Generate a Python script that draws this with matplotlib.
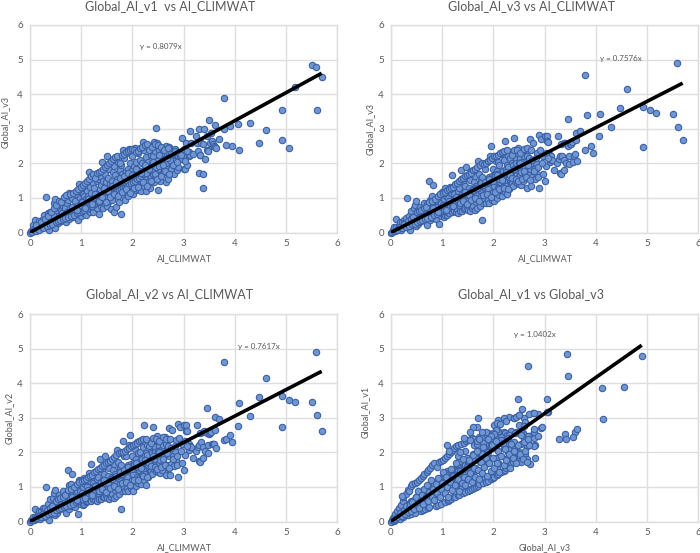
import matplotlib
matplotlib.use("Agg")
import matplotlib.pyplot as plt

# AI values, the same sites in every panel
ai_climwat = [
    0.00,0.02,0.04,0.05,0.06,0.08,0.09,0.10,0.12,0.13,
    0.15,0.16,0.18,0.20,0.21,0.23,0.25,0.27,0.28,0.30,
    0.31,0.33,0.35,0.37,0.38,0.40,0.40,0.42,0.44,0.45,
    0.47,0.48,0.49,0.50,0.52,0.53,0.55,0.56,0.58,0.60,
    0.60,0.62,0.63,0.65,0.66,0.68,0.70,0.70,0.72,0.73,
    0.75,0.76,0.77,0.79,0.80,0.80,0.82,0.83,0.85,0.87,
    0.88,0.90,0.92,0.93,0.94,0.95,0.97,0.98,1.00,1.00,
    1.01,1.02,1.03,1.04,1.05,1.06,1.07,1.08,1.09,1.10,
    1.10,1.12,1.13,1.14,1.15,1.16,1.17,1.18,1.19,1.20,
    1.20,1.22,1.23,1.24,1.25,1.26,1.27,1.28,1.29,1.30,
    1.30,1.32,1.33,1.34,1.35,1.36,1.37,1.38,1.39,1.40,
    1.40,1.42,1.43,1.44,1.45,1.46,1.47,1.48,1.49,1.50,
    1.50,1.51,1.52,1.53,1.54,1.55,1.56,1.57,1.58,1.59,
    1.60,1.61,1.62,1.63,1.64,1.65,1.66,1.67,1.68,1.69,
    1.70,1.71,1.72,1.73,1.74,1.75,1.76,1.77,1.78,1.79,
    1.80,1.81,1.82,1.83,1.84,1.85,1.86,1.87,1.88,1.89,
    1.90,1.91,1.92,1.93,1.94,1.95,1.96,1.97,1.98,1.99,
    2.00,2.01,2.02,2.03,2.04,2.05,2.06,2.07,2.08,2.09,
    2.10,2.11,2.12,2.13,2.14,2.15,2.16,2.17,2.18,2.19,
    2.20,2.21,2.22,2.23,2.24,2.25,2.26,2.27,2.28,2.29,
    2.30,2.31,2.32,2.33,2.34,2.35,2.36,2.37,2.38,2.39,
    2.40,2.41,2.42,2.43,2.44,2.45,2.46,2.47,2.48,2.49,
    2.50,2.51,2.52,2.53,2.54,2.55,2.56,2.58,2.60,2.62,
    2.63,2.65,2.66,2.68,2.69,2.70,2.71,2.72,2.73,2.75,
    2.76,2.78,2.80,2.82,2.84,2.85,2.86,2.88,2.90,2.90,
    2.93,2.97,2.97,3.00,3.00,3.02,3.04,3.05,3.07,3.10,
    3.11,3.13,3.13,3.15,3.18,3.25,3.27,3.28,3.30,3.30,
    3.32,3.33,3.35,3.38,3.39,3.39,3.40,3.42,3.45,3.46,
    3.47,3.48,3.50,3.52,3.53,3.55,3.58,3.60,3.62,3.62,
    3.63,3.69,3.80,3.80,3.83,3.90,3.95,4.07,4.09,4.30,
    4.47,4.62,4.93,4.93,5.06,5.18,5.52,5.58,5.61,5.70,
    # edges of the dense band
    0.12,0.18,0.22,0.26,0.30,0.34,0.36,0.39,0.41,0.43,
    0.46,0.50,0.51,0.54,0.57,0.59,0.61,0.64,0.67,0.69,
    0.71,0.74,0.78,0.81,0.84,0.86,0.89,0.91,0.94,0.96,
    0.99,1.01,1.03,1.05,1.07,1.09,1.11,1.13,1.15,1.17,
    1.19,1.21,1.23,1.25,1.27,1.29,1.31,1.33,1.35,1.37,
    1.39,1.41,1.43,1.45,1.47,1.49,1.51,1.53,1.55,1.57,
    1.59,1.61,1.63,1.65,1.67,1.69,1.71,1.73,1.75,1.77,
    1.79,1.81,1.83,1.85,1.87,1.89,1.91,1.93,1.95,1.97,
    1.99,2.01,2.03,2.05,2.07,2.09,2.11,2.13,2.15,2.17,
    2.19,2.21,2.24,2.26,2.28,2.31,2.33,2.36,2.38,2.41,
    2.44,2.47,2.50,2.53,2.56,2.59,2.62,2.66,2.70,2.74,
    # middle of the dense band
    0.82,0.92,1.02,1.08,1.14,1.22,1.28,1.34,1.40,1.44,
    1.48,1.52,1.56,1.60,1.64,1.68,1.72,1.76,1.80,1.84,
    1.88,1.92,1.96,2.00,2.04,2.08,2.12,2.16,2.20,2.24,
    2.28,2.32,2.36,2.40,2.44,2.48,2.52,2.56,2.60,2.64,
    2.68,2.72,2.76,2.80,2.84,2.88,2.92,2.96,3.02,3.06,
]
global_v1 = [
    0.00,0.03,0.02,0.10,0.22,0.07,0.13,0.36,0.05,0.18,
    0.25,0.09,0.33,0.14,0.22,0.12,0.40,0.52,0.20,0.31,
    1.04,0.15,0.55,0.42,0.08,0.60,0.28,0.36,0.50,0.22,
    0.86,0.98,0.14,0.65,0.38,0.75,0.27,0.85,0.48,0.62,
    0.34,0.92,0.55,0.78,0.42,0.70,0.30,0.95,0.58,0.85,
    0.95,0.40,1.15,0.72,0.50,1.02,0.64,1.00,0.46,0.90,
    0.60,1.10,0.78,0.37,0.55,1.41,0.70,1.00,0.48,1.20,
    0.75,0.90,0.62,1.12,1.05,0.55,0.82,1.28,0.66,0.98,
    0.52,1.20,0.72,1.05,0.88,1.75,0.60,1.32,0.95,0.68,
    1.15,0.85,1.42,0.58,1.02,1.30,0.75,1.60,0.92,1.48,
    0.70,1.10,1.55,0.88,0.53,1.25,1.62,0.78,1.38,2.05,
    1.00,0.72,1.50,1.22,0.85,1.70,1.10,1.45,0.95,2.22,
    1.30,0.78,1.58,1.05,1.85,0.90,1.40,2.00,1.18,0.68,
    1.50,0.95,1.75,1.25,0.60,1.92,1.08,1.65,1.38,0.75,
    1.55,1.15,2.05,0.88,1.45,1.82,1.28,0.53,1.95,1.02,
    1.68,2.40,1.20,1.55,2.15,1.35,0.95,1.78,2.30,1.10,
    1.48,1.85,1.05,2.42,1.30,1.65,2.00,1.18,1.78,1.42,
    2.20,1.10,1.58,1.92,1.35,2.45,1.72,1.22,2.05,1.50,
    1.85,1.25,2.30,1.62,1.40,2.10,1.78,1.20,2.00,1.50,
    2.62,1.68,1.35,2.38,1.95,1.55,2.18,1.20,1.82,2.50,
    1.45,2.05,1.72,2.42,1.30,1.90,2.25,1.60,2.00,1.50,
    2.20,1.70,2.62,1.45,1.95,2.35,1.60,3.03,1.80,2.58,
    1.22,2.10,1.85,2.40,1.50,1.95,2.28,1.68,2.45,1.80,
    2.12,1.45,2.50,1.90,2.32,1.55,2.05,2.48,1.75,2.20,
    1.85,2.38,2.10,1.70,2.42,1.90,2.25,1.80,2.22,1.90,
    2.20,2.72,2.12,1.85,2.42,1.85,2.58,2.18,1.95,2.20,
    2.32,2.93,2.25,2.60,2.28,2.80,2.60,2.35,2.98,1.72,
    2.25,2.25,2.60,2.55,1.68,1.30,3.00,2.12,2.78,2.38,
    2.40,2.35,3.25,2.60,2.87,2.65,2.55,2.50,3.10,2.48,
    2.45,2.71,3.88,2.98,2.54,3.08,2.49,3.13,2.40,3.18,
    2.58,2.96,3.53,2.67,2.45,4.22,4.85,4.80,3.53,4.50,
    # edges of the dense band
    0.21,0.08,0.30,0.14,0.38,0.18,0.48,0.22,0.58,0.24,
    0.72,0.30,0.80,0.33,0.92,0.35,0.88,0.38,1.02,0.42,
    1.08,0.46,1.12,0.48,1.14,0.52,1.20,0.56,1.26,0.58,
    1.32,0.62,1.38,0.66,1.44,0.70,1.50,0.72,1.56,0.76,
    1.62,0.78,1.68,0.82,1.58,0.85,1.72,0.88,1.75,0.92,
    1.78,0.95,1.85,0.98,1.90,1.00,1.95,1.02,2.02,1.08,
    2.08,1.12,2.12,1.15,2.18,1.18,2.22,1.22,2.00,1.25,
    2.25,1.28,2.28,1.30,2.32,1.35,2.36,1.38,2.40,1.42,
    2.42,1.45,2.38,1.50,2.32,1.55,2.35,1.58,2.45,1.62,
    2.48,1.68,2.52,1.72,2.55,1.45,2.40,1.80,2.48,1.85,
    2.55,1.88,2.52,1.92,2.48,1.98,2.40,2.02,2.45,2.10,
    # middle of the dense band
    0.74,0.66,0.88,0.72,0.98,0.82,1.12,0.92,1.02,1.28,
    0.88,1.20,1.02,1.35,1.12,1.45,1.05,1.58,1.18,1.62,
    1.25,1.72,1.15,1.65,1.28,1.85,1.32,1.72,1.45,1.95,
    1.35,1.85,1.50,2.05,1.70,1.55,2.25,1.62,1.95,1.78,
    2.15,1.68,2.28,1.95,2.35,2.05,2.30,2.25,2.08,2.35,
]
global_v3 = [
    0.00,0.02,0.06,0.04,0.15,0.05,0.16,0.38,0.08,0.10,
    0.20,0.14,0.29,0.06,0.31,0.17,0.37,0.30,0.15,0.42,
    0.99,0.24,0.48,0.33,0.06,0.62,0.21,0.44,0.70,0.29,
    0.80,0.90,0.20,0.55,0.25,0.66,0.30,0.75,0.33,0.58,
    0.44,0.70,0.40,0.86,0.52,0.62,0.23,0.82,0.47,0.72,
    1.50,0.35,0.95,0.66,0.42,1.05,0.80,1.37,0.55,0.74,
    0.40,1.00,0.90,0.24,0.64,1.10,0.48,0.85,0.56,1.18,
    0.62,0.72,0.45,0.98,1.28,0.50,0.70,1.05,0.52,0.80,
    0.60,1.00,0.55,1.20,0.68,1.33,0.65,1.15,0.78,0.58,
    1.65,0.72,1.10,0.62,0.82,1.00,0.60,1.38,0.68,1.20,
    0.55,0.92,1.28,0.75,0.62,1.05,1.82,0.62,1.12,1.45,
    0.85,0.68,1.20,1.35,0.70,1.90,1.00,1.10,0.75,1.62,
    1.18,0.65,1.30,0.80,1.52,0.62,1.12,1.78,0.92,0.70,
    1.25,0.78,1.45,1.05,0.65,1.62,0.88,1.35,1.15,0.72,
    2.07,0.95,1.70,0.78,1.22,1.52,1.05,0.37,1.60,0.85,
    1.40,1.95,1.00,1.30,1.85,1.15,0.85,1.50,2.05,0.95,
    1.25,1.60,0.85,2.22,1.10,1.45,2.50,0.95,1.62,1.18,
    1.85,0.90,1.35,1.70,1.12,2.08,1.50,1.00,1.78,1.28,
    2.05,1.08,1.95,1.45,1.22,2.28,1.60,1.05,1.75,1.32,
    2.10,1.48,1.18,2.65,1.70,1.35,1.95,1.10,1.62,2.20,
    1.25,1.85,1.52,2.15,1.40,1.68,2.00,1.42,2.28,1.35,
    2.72,1.55,2.35,1.50,1.80,2.12,1.42,2.30,1.60,2.45,
    1.40,1.90,1.65,2.15,1.38,1.75,2.05,1.50,2.20,1.62,
    2.40,1.30,2.22,1.70,2.08,1.65,1.85,2.70,1.35,2.00,
    1.60,2.60,1.85,1.55,2.00,1.70,2.30,1.60,2.82,1.30,
    2.70,1.68,2.20,1.48,2.80,1.92,2.80,2.65,2.62,2.05,
    2.25,2.10,2.22,2.10,1.80,2.02,2.80,2.12,2.20,1.73,
    2.55,1.68,2.20,2.58,2.10,1.80,2.60,2.00,2.50,3.29,
    2.20,1.97,2.57,2.55,2.62,2.05,2.22,2.27,2.87,2.68,
    2.08,2.94,4.56,2.40,3.40,2.50,2.31,2.78,3.42,3.06,
    3.60,4.15,2.48,3.63,3.55,3.45,3.44,4.90,3.05,2.68,
    # edges of the dense band
    0.08,0.17,0.12,0.24,0.16,0.34,0.20,0.40,0.24,0.46,
    0.24,0.58,0.30,0.62,0.34,0.66,0.36,0.72,0.40,0.74,
    0.42,0.88,0.46,0.92,0.50,0.98,0.54,1.06,0.58,1.12,
    0.62,1.14,0.64,1.18,0.70,1.22,0.72,1.26,0.76,1.30,
    0.80,1.32,0.84,1.40,0.90,1.44,0.94,1.50,0.98,1.54,
    1.02,1.58,1.06,1.62,1.10,1.66,1.14,1.70,1.18,1.72,
    1.22,1.80,1.24,1.85,1.28,1.90,1.30,1.96,1.34,2.00,
    1.36,1.98,1.42,2.02,1.46,2.08,1.50,2.10,1.56,2.15,
    1.58,2.20,1.62,2.22,1.68,2.25,1.55,2.30,1.72,2.32,
    1.78,2.35,1.85,2.38,1.90,1.60,1.72,2.25,1.95,2.40,
    2.00,2.38,2.02,2.30,1.95,2.42,1.90,2.44,2.15,2.38,
    # middle of the dense band
    0.70,0.60,0.80,0.66,0.90,0.76,1.02,0.85,0.92,1.18,
    0.82,1.08,0.95,1.22,1.00,1.30,0.92,1.42,1.08,1.45,
    1.12,1.55,1.02,1.50,1.18,1.65,1.25,1.52,1.30,1.75,
    1.25,1.65,1.58,1.85,1.55,1.50,2.00,1.55,1.78,1.60,
    1.95,1.52,2.10,1.78,2.15,1.88,2.40,2.00,2.30,2.15,
]
global_v2 = [
    0.00,0.03,0.05,0.05,0.14,0.04,0.14,0.37,0.07,0.11,
    0.22,0.13,0.30,0.08,0.29,0.18,0.38,0.33,0.14,0.40,
    0.99,0.22,0.50,0.35,0.05,0.65,0.23,0.42,0.68,0.27,
    0.82,0.91,0.18,0.57,0.26,0.68,0.32,0.76,0.35,0.56,
    0.42,0.72,0.42,0.88,0.50,0.60,0.25,0.80,0.48,0.74,
    1.50,0.37,1.05,0.68,0.45,1.08,0.78,1.37,0.53,0.76,
    0.42,1.02,0.88,0.22,0.62,1.20,0.50,0.87,0.58,1.20,
    0.64,0.74,0.47,1.00,1.25,0.52,0.72,1.08,0.55,0.83,
    0.58,1.02,0.58,1.18,0.70,1.40,0.62,1.18,0.80,0.60,
    1.65,0.74,1.12,0.65,0.85,1.03,0.62,1.42,0.70,1.22,
    0.58,0.95,1.30,0.77,0.64,1.08,1.80,0.65,1.15,1.48,
    0.88,0.70,1.22,1.37,0.72,1.90,1.02,1.12,0.78,1.65,
    1.20,0.68,1.32,0.83,1.55,0.65,1.15,1.75,0.95,0.72,
    1.28,0.80,1.48,1.08,0.68,1.65,0.90,1.38,1.18,0.75,
    2.07,0.98,1.72,0.80,1.25,1.55,1.08,0.37,1.62,0.88,
    1.42,2.33,1.02,1.32,1.88,1.18,0.88,1.52,1.90,0.98,
    1.28,1.62,0.88,2.22,1.12,1.48,2.50,0.98,1.65,1.20,
    1.88,0.88,1.38,1.72,1.15,2.10,1.52,1.02,1.80,1.30,
    2.30,1.10,1.98,1.48,1.25,2.00,1.62,1.08,1.78,1.35,
    2.15,1.50,1.20,2.80,1.72,1.38,1.98,1.05,1.65,2.20,
    1.28,1.88,1.55,2.18,1.42,1.70,2.02,1.45,2.30,1.38,
    2.72,1.58,2.38,1.52,1.82,2.15,1.45,2.35,1.62,2.48,
    1.42,1.92,1.68,2.18,1.40,1.78,2.08,1.48,2.22,1.65,
    2.45,1.35,2.25,1.62,2.10,1.55,1.88,2.70,1.35,2.05,
    1.65,2.65,1.88,1.60,2.05,1.75,2.35,1.62,2.82,1.30,
    2.72,1.68,2.25,1.50,2.80,1.92,2.80,2.63,2.62,2.08,
    2.25,2.15,2.18,2.15,1.83,2.05,2.80,2.15,2.20,1.75,
    2.55,1.72,2.30,2.60,2.15,1.85,2.62,2.05,2.55,3.27,
    2.22,1.97,2.52,2.55,2.60,2.25,2.25,2.25,3.02,2.65,
    2.12,2.96,4.62,2.35,2.40,2.50,2.30,2.76,3.42,3.06,
    3.60,4.15,2.72,3.63,3.52,3.46,3.45,4.90,3.07,2.63,
    # edges of the dense band
    0.09,0.16,0.13,0.22,0.17,0.32,0.21,0.38,0.25,0.44,
    0.26,0.60,0.32,0.64,0.36,0.68,0.38,0.70,0.42,0.76,
    0.44,0.90,0.48,0.94,0.52,1.00,0.56,1.08,0.60,1.14,
    0.64,1.16,0.66,1.20,0.72,1.24,0.74,1.28,0.78,1.32,
    0.82,1.34,0.86,1.42,0.92,1.46,0.96,1.52,1.00,1.56,
    1.04,1.60,1.08,1.64,1.12,1.68,1.16,1.72,1.20,1.74,
    1.24,1.82,1.26,1.87,1.30,1.92,1.32,1.98,1.36,2.02,
    1.38,2.00,1.44,2.04,1.48,2.10,1.52,2.12,1.58,2.18,
    1.60,2.22,1.64,2.25,1.70,2.28,1.58,2.33,1.74,2.35,
    1.80,2.38,1.88,2.40,1.92,1.62,1.75,2.28,1.98,2.42,
    2.02,2.40,2.05,2.32,1.98,2.45,1.92,2.38,2.18,2.40,
    # middle of the dense band
    0.72,0.62,0.82,0.68,0.92,0.78,1.04,0.87,0.94,1.20,
    0.84,1.10,0.97,1.24,1.02,1.32,0.94,1.44,1.10,1.48,
    1.14,1.58,1.05,1.52,1.20,1.68,1.20,1.55,1.32,1.78,
    1.28,1.68,1.60,1.88,1.58,1.52,2.02,1.58,1.80,1.62,
    1.98,1.55,2.12,1.80,2.18,1.90,2.42,2.05,2.32,2.18,
]

# points only visible in the v1 vs v3 panel
extra_v3 = [4.13,1.10,1.13,1.71,2.08,2.14,2.25,2.40,2.45,2.50,
            2.69,2.79,3.05,2.95,2.87,2.80,2.60,1.85,1.78,1.60,
            1.55,1.43,0.22,2.72,2.82,2.80,2.70,2.50,2.55,2.65,
            0.12,0.18,0.22,0.25,0.28,0.30,0.33,0.35,0.38,0.40,
            0.42,0.45,0.48,0.50,0.52,0.55,0.58,0.60,0.62,0.65,
            0.68,0.70,0.72,0.75,0.78,0.80,0.82,0.85,0.88,0.90,
            0.92,0.95,0.98,1.00,1.02,1.05,1.08,1.10,1.12,1.15,
            1.18,1.20,1.22,1.25,1.28,1.30,1.32,1.35,1.38,1.40,
            1.42,1.45,1.48,1.50,1.52,1.55,1.58,1.60,1.62,1.65,
            1.68,1.70,1.72,1.75,1.78,1.80,1.82,1.85,1.88,1.90,
            1.92,1.95,1.98,2.00,2.02,2.05,2.08,2.10,2.12,2.15,
            2.18,2.20,2.22,2.25,2.28,2.30,2.33,2.35,2.38,2.40,
            2.42,2.45,2.48,2.52,2.55,2.58,2.60,2.62,2.65,2.68]
extra_v1 = [3.85,2.22,2.05,2.98,2.85,2.82,2.92,3.00,3.03,3.08,
            3.10,3.13,3.18,2.72,2.48,2.68,2.77,2.60,2.58,2.72,
            2.60,2.42,0.75,1.65,1.85,2.18,2.20,1.75,1.72,1.80,
            0.14,0.24,0.16,0.34,0.22,0.45,0.28,0.38,0.50,0.30,
            0.55,0.36,0.70,0.48,0.88,0.40,0.62,0.78,0.52,0.95,
            0.70,1.05,0.60,0.85,1.20,0.72,0.95,0.62,1.08,0.82,
            1.25,0.72,0.95,1.12,1.42,0.82,1.28,1.00,0.70,1.15,
            1.52,0.90,1.32,1.05,1.68,1.22,0.88,1.45,1.10,1.80,
            1.30,1.05,1.58,1.22,1.78,1.40,1.15,1.92,1.55,1.30,
            2.05,1.50,1.22,1.72,1.40,2.15,1.58,1.85,1.32,2.00,
            1.70,1.45,2.20,1.85,1.55,2.32,1.68,2.05,1.42,1.90,
            2.28,1.62,2.10,1.78,2.42,1.95,1.55,2.25,1.85,2.05,
            2.55,1.70,2.20,1.95,2.50,1.80,2.30,2.05,1.72,2.40]

slopes = [0.8079, 0.7576, 0.7617, 1.0402]
line_ends = [5.7, 5.7, 5.7, 4.9]
titles = ["Global_AI_v1  vs AI_CLIMWAT", "Global_AI_v3 vs AI_CLIMWAT",
          "Global_AI_v2 vs AI_CLIMWAT", "Global_AI_v1 vs Global_v3"]
xlabels = ["AI_CLIMWAT", "AI_CLIMWAT", "AI_CLIMWAT", "Global_AI_v3"]
ylabels = ["Global_AI_v3", "Global_AI_v3", "Global_AI_v2", "Global_AI_v1"]
ticks = [0, 1, 2, 3, 4, 5, 6]

panel_x = [ai_climwat, ai_climwat, ai_climwat, global_v3 + extra_v3]
panel_y = [global_v1, global_v3, global_v2, global_v1 + extra_v1]

plt.rcParams['font.family'] = ['Lato', 'DejaVu Sans']
W, H = 700, 553
GREY = "#595959"

# pixel layout: left, top of the plot area, then title, equation, labels
boxes = [(30, 25), (391, 25), (30, 314), (391, 314)]
title_pos = [(170, 6), (531, 6), (170, 294), (531, 294)]
eq_pos = [(161, 46), (621, 59), (259, 347), (535, 334)]
xlab_pos = [(184, 259), (545, 259), (184, 548), (545, 548)]
ylab_pos = [(5, 122), (370, 129), (9, 418), (365, 412)]
box_w, box_h = 307, 207.5

fig = plt.figure(figsize=(W / 100, H / 100), dpi=100)


def put(pos, s, **kw):
    fig.text(pos[0] / W, 1 - pos[1] / H, s, color=GREY, ha="center", va="center", **kw)


for i in range(4):
    left, top = boxes[i]
    ax = fig.add_axes([left / W, 1 - (top + box_h) / H, box_w / W, box_h / H])
    ax.scatter(panel_x[i], panel_y[i], s=21, c="#7096D2", edgecolors="#3A60A6",
               linewidths=0.8, zorder=3, clip_on=False)
    ax.plot([0, line_ends[i]], [0, slopes[i] * line_ends[i]], color="black",
            lw=2.6, zorder=4, solid_capstyle="butt")
    ax.set_xlim(0, 6)
    ax.set_ylim(0, 6)
    ax.set_xticks(ticks)
    ax.set_yticks(ticks)
    ax.grid(True, color="#DEDEDE", lw=1.0)
    ax.set_axisbelow(True)
    for sp in ax.spines.values():
        sp.set_color("#DEDEDE")
        sp.set_linewidth(1.0)
    ax.tick_params(length=0, labelsize=7, labelcolor=GREY, pad=5)

    put(title_pos[i], titles[i], fontsize=9)
    put(eq_pos[i], "y = %.4fx" % slopes[i], fontsize=5.8)
    put(xlab_pos[i], xlabels[i], fontsize=6.5)
    put(ylab_pos[i], ylabels[i], fontsize=6.5, rotation=90)

fig.savefig("out.png", dpi=100)
